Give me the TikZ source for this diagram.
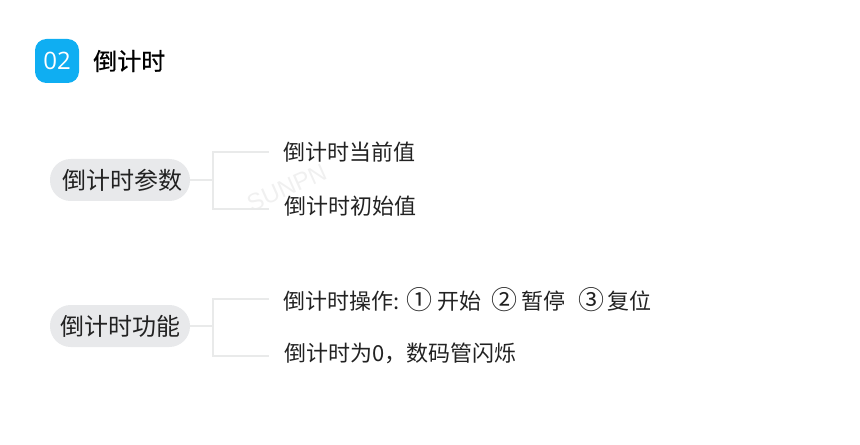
\documentclass[tikz,border=0pt]{standalone}
\usepackage{fontspec}
\setmainfont{Noto Sans CJK SC}
\newfontfamily\numfont{Open Sans}
\newfontfamily\headfont[FakeBold=0.5]{Noto Sans CJK SC}
\newfontfamily\stampfont{Liberation Sans}
\usetikzlibrary{positioning,calc}

\definecolor{badgeblue}{HTML}{0FAEF2}
\definecolor{pillgray}{HTML}{E8E9EB}
\definecolor{linkgray}{HTML}{E9EAEA}
\definecolor{inkgray}{HTML}{222222}

\newcommand{\bigmark}[1]{{\fontsize{19.5}{16.5}\selectfont #1}}

\tikzset{
  badge/.style={fill=badgeblue, rounded corners=8.5pt, minimum width=33pt, minimum height=33pt, inner sep=0pt, text=white, font=\numfont\fontsize{18}{18}\selectfont},
  headline/.style={anchor=west, inner sep=0pt, text=black, font=\headfont\fontsize{18}{18}\selectfont},
  pill/.style={fill=pillgray, rounded corners=15.5pt, minimum height=31.5pt, minimum width=105pt, inner sep=0pt, text=inkgray, font=\fontsize{18}{18}\selectfont},
  leaf/.style={anchor=west, inner sep=0pt, text=inkgray, font=\fontsize{16.5}{16.5}\selectfont},
  link/.style={draw=linkgray, line width=1.5pt},
  stamp/.style={text=black!6, rotate=24, inner sep=0pt, anchor=west, font=\stampfont\fontsize{18}{18}\selectfont}
}

\begin{document}
\begin{tikzpicture}[x=0.75pt,y=-0.75pt]
\useasboundingbox (0,0) rectangle (860,445);

% Section heading
\node[badge] (badge) at (57,61) {02};
\node[headline] (title) at (93,61) {倒计时};

% First group
\node[pill] (params) at (120,180) {\hspace{3pt}倒计时参数};
\coordinate (parjoint) at (213,180);
\coordinate (parend1) at (269,152);
\coordinate (parend2) at (269,209);
\node[stamp] (stamp) at (248,205) {SUNPN};
\node[leaf] (parleaf1) at (283,152) {倒计时当前值};
\node[leaf] (parleaf2) at (284,206) {倒计时初始值};
\draw[link] (params.east) -- (parjoint);
\draw[link] (parend1) -- (parjoint |- parend1) -- (parjoint |- parend2) -- (parend2);

% Second group
\node[pill] (funcs) at (120,326) {倒计时功能};
\coordinate (funjoint) at (213,326);
\coordinate (funend1) at (269,299);
\coordinate (funend2) at (269,356);
\node[leaf] (funleaf1) at (283,300) {倒计时操作:\hspace{5.25pt}\bigmark{①}\hspace{3.5pt}开始\hspace{7.75pt}\bigmark{②}\hspace{2.75pt}暂停\hspace{10pt}\bigmark{③}\hspace{2pt}复位};
\node[leaf] (funleaf2) at (284,353) {倒计时为0，数码管闪烁};
\draw[link] (funcs.east) -- (funjoint);
\draw[link] (funend1) -- (funjoint |- funend1) -- (funjoint |- funend2) -- (funend2);

\end{tikzpicture}
\end{document}
